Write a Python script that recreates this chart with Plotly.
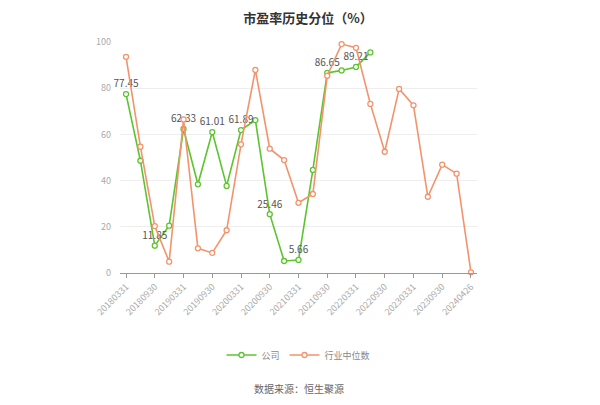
import plotly.graph_objects as go

dates = [
    "20180331", "20180630", "20180930", "20181231",
    "20190331", "20190630", "20190930", "20191231",
    "20200331", "20200630", "20200930", "20201231",
    "20210331", "20210630", "20210930", "20211231",
    "20220331", "20220630", "20220930", "20221231",
    "20230331", "20230630", "20230930", "20231231",
    "20240426",
]
company = [77.45, 48.6, 11.85, 20.5, 62.33, 38.4, 61.01, 37.7, 61.89, 66.2,
           25.46, 5.2, 5.66, 44.6, 86.65, 87.7, 89.21, 95.5]
industry = [93.6, 54.7, 20.3, 4.9, 66.5, 10.7, 8.7, 18.5, 55.7, 87.9,
            53.8, 48.9, 30.4, 34.2, 85.4, 99.1, 97.5, 73.2, 52.5, 79.7,
            72.6, 33.0, 46.9, 43.0, 0.3]
tick_labels = dates[::2]

green = "#5cc42e"
orange = "#f3936c"

# label every other company point
company_text = [f"{v:.2f}" if i % 2 == 0 else "" for i, v in enumerate(company)]

fig = go.Figure()
fig.add_trace(go.Scatter(
    x=list(range(len(company))), y=company,
    mode="lines+markers+text",
    name="公司",
    text=company_text,
    textposition="top center",
    textfont=dict(size=10, color="#555555"),
    cliponaxis=False,
    line=dict(color=green, width=1.6),
    marker=dict(symbol="circle", size=5, color="white", line=dict(color=green, width=1.3)),
))
fig.add_trace(go.Scatter(
    x=list(range(len(industry))), y=industry,
    mode="lines+markers",
    name="行业中位数",
    cliponaxis=False,
    line=dict(color=orange, width=1.6),
    marker=dict(symbol="circle", size=5, color="white", line=dict(color=orange, width=1.3)),
))

fig.update_layout(
    width=600, height=405,
    paper_bgcolor="white", plot_bgcolor="white",
    font=dict(family="Noto Sans CJK SC, sans-serif", color="#888888", size=9),
    title=dict(text="<b>市盈率历史分位（%）</b>", x=0.5, xanchor="center", y=0.975, yanchor="middle",
               font=dict(size=13, color="#333333")),
    margin=dict(l=112, r=131, t=34, b=140),
    showlegend=True,
    legend=dict(orientation="h", x=0.5, xanchor="center", y=-0.355, yanchor="middle",
                font=dict(size=9, color="#888888"), itemwidth=30),
    annotations=[dict(text="数据来源：恒生聚源", x=0.5, xref="paper", y=-0.498, yref="paper",
                      yanchor="middle", showarrow=False, font=dict(size=10, color="#666666"))],
)
fig.update_xaxes(
    range=[-0.42, len(dates) - 1 + 0.42],
    tickmode="array", tickvals=list(range(0, len(dates), 2)), ticktext=tick_labels,
    tickangle=-45, ticks="outside", ticklen=4, tickcolor="#999999",
    showline=True, linecolor="#999999", linewidth=1,
    showgrid=False, zeroline=False, tickfont=dict(size=9, color="#aaaaaa"),
)
fig.update_yaxes(
    range=[0, 100], tickvals=[0, 20, 40, 60, 80, 100],
    showgrid=True, gridcolor="#eeeeee", zeroline=False,
    tickfont=dict(size=9, color="#aaaaaa"), ticks="", ticklabelstandoff=8,
)

fig.write_html("out.html")
